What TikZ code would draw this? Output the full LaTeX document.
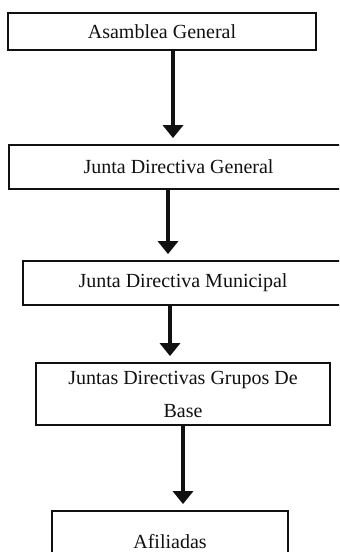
\documentclass[tikz,border=0pt]{standalone}
\usepackage{fontspec}
\setmainfont{Liberation Serif}
\usepackage{xcolor}
\usepackage{tikz}
\usetikzlibrary{arrows.meta, positioning, calc}
\definecolor{orgInk}{HTML}{111111}
\tikzset{
  org/box/.style   = {rectangle, draw=orgInk, line width=0.9pt, fill=white,
                      align=center, inner sep=2pt, text=orgInk,
                      font=\fontsize{10}{16.5}\selectfont},
  org/arrow/.style = {-{Triangle[width=10pt, length=6.5pt]}, line width=1.7pt,
                      draw=orgInk, shorten >=3pt},
}
\begin{document}
\begin{tikzpicture}[x=0.5pt, y=-0.5pt]
      \clip (0,0) rectangle (339,552);
      \fill[white] (0,0) rectangle (339,552);
      % levels
      \node[org/box, minimum width=154pt, minimum height=18.5pt] (asamblea) at (162, 31.5)
            {Asamblea General};
      \node[org/box, minimum width=169.5pt, minimum height=22pt] (jdgeneral) at (178.5, 167)
            {Junta Directiva General};
      \node[org/box, minimum width=160pt, minimum height=22pt] (jdmunicipal) at (183, 283)
            {Junta Directiva Municipal};
      \node[org/box, minimum width=147pt, minimum height=31pt] (grupos) at (183, 394)
            {Juntas Directivas Grupos De\\Base};
      \node[org/box, minimum width=118pt, minimum height=31pt] (afiliadas) at (170, 542)
            {Afiliadas};
      % arrows
      \draw[org/arrow] ([xshift=5.5pt]asamblea.south)
            -- ([xshift=5.5pt]asamblea.south |- jdgeneral.north);
      \draw[org/arrow] ([xshift=-5.25pt]jdgeneral.south)
            -- ([xshift=-5.25pt]jdgeneral.south |- jdmunicipal.north);
      \draw[org/arrow] ([xshift=-6.5pt]jdmunicipal.south)
            -- ([xshift=-6.5pt]jdmunicipal.south |- grupos.north);
      \draw[org/arrow] (grupos.south) -- (grupos.south |- afiliadas.north);
    \end{tikzpicture}
\end{document}
